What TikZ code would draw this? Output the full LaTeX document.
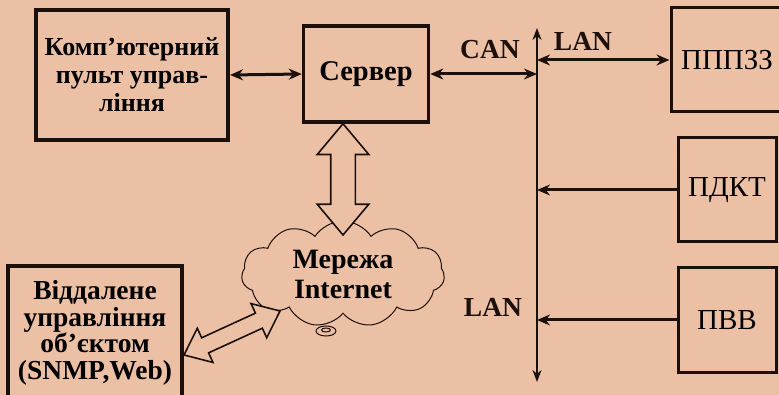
\documentclass[tikz,border=0pt]{standalone}
\usepackage{fontspec}
\setmainfont{Liberation Serif}
\usetikzlibrary{arrows.meta,calc,positioning,shapes.symbols,shapes.arrows}
\definecolor{bgpeach}{RGB}{236,192,165}
\definecolor{inkline}{RGB}{28,16,12}

\tikzset{
  thickbox/.style={draw=inkline,line width=4pt,font=\bfseries\fontsize{26}{28}\selectfont,align=center,inner sep=0pt},
  devbox/.style={draw=inkline,line width=3pt,font=\fontsize{29}{30}\selectfont,minimum width=98pt,minimum height=104pt,inner sep=0pt},
  buslabel/.style={font=\bfseries\fontsize{27.5}{28}\selectfont,text=inkline},
  link/.style={inkline,line width=3pt,-{Stealth[length=13pt,width=11pt]}},
  twolink/.style={link,{Stealth[length=13pt,width=11pt]}-{Stealth[length=13pt,width=11pt]}},
  fatarrow/.style={double arrow,draw=inkline,fill=bgpeach,line width=1.6pt,inner xsep=0pt,double arrow head indent=0pt},
}
\newcommand{\fatlink}[3][]{%
  \path let \p1=($(#3)-(#2)$), \n1={atan2(\y1,\x1)}, \n2={veclen(\x1,\y1)} in
    node[fatarrow,#1,minimum height=\n2,rotate=\n1] at ($(#2)!0.5!(#3)$) {};}

\begin{document}
\begin{tikzpicture}[x=1pt,y=-1pt]
  \fill[bgpeach] (0,0) rectangle (779,395);
  \useasboundingbox (0,0) rectangle (779,395);

  % left side
  \node[thickbox,minimum width=192pt,minimum height=130pt] (pult) at (132,75)
    {Комп’ютерний\\пульт управ-\\ління};
  \node[thickbox,line width=3.5pt,minimum width=125pt,minimum height=96pt,font=\bfseries\fontsize{28.5}{28}\selectfont] (server) at (366,74) {Сервер};
  \node[cloud,cloud puffs=11,cloud puff arc=115,aspect=2,draw=inkline,line width=1pt,
        minimum width=203pt,minimum height=106pt,inner sep=0pt,align=center,
        font=\bfseries\fontsize{28}{30}\selectfont] (net) at (343,274) {Мережа\\Internet};
  \draw[inkline,line width=1pt] (326,331) ellipse (10 and 5) (326,330) ellipse (4.5 and 2);
  \node[thickbox,minimum width=174pt,minimum height=134pt,font=\bfseries\fontsize{27.5}{26.5}\selectfont] (remote) at (95,333)
    {Віддалене\\управління\\об’єктом\\(SNMP,Web)};

  % bus
  \coordinate (bustop) at (537,28);
  \coordinate (busbot) at (537,382);
  \draw[link,line width=2.5pt,{Stealth[length=12pt,width=9pt]}-{Stealth[length=12pt,width=9pt]}] (bustop) -- (busbot);

  % devices
  \node[devbox,minimum width=112pt] (pppzz) at (727,60) {ПППЗЗ};
  \node[devbox] (pdkt) at (727,190) {ПДКТ};
  \node[devbox] (pvv) at (727,320) {ПВВ};

  % connectors
  \draw[twolink] (pult.east) -- (server.west);
  \draw[twolink] (server.east) -- (server.east -| bustop);
  \draw[twolink] (pppzz.west -| bustop) -- (pppzz.west);
  \draw[link] (pdkt.west) -- (pdkt.west -| bustop);
  \draw[link] (pvv.west) -- (pvv.west -| bustop);

  \node[buslabel] at (490,50) {CAN};
  \node[buslabel] at (583,41) {LAN};
  \node[buslabel] at (493,307) {LAN};

  % hollow arrows
  \coordinate (srvfoot) at (server.south -| net.north);
  \coordinate (netfoot) at (343,235);
  \fatlink[minimum width=50pt,inner ysep=11.5pt,double arrow head extend=13.5pt,double arrow tip angle=80]{srvfoot}{netfoot}
  \coordinate (remtip) at ($(remote.north east)+(0,91)$);
  \coordinate (nettip) at (280,311);
  \fatlink[minimum width=36pt,inner ysep=7.5pt,double arrow head extend=10.5pt,double arrow tip angle=78]{remtip}{nettip}
\end{tikzpicture}
\end{document}
